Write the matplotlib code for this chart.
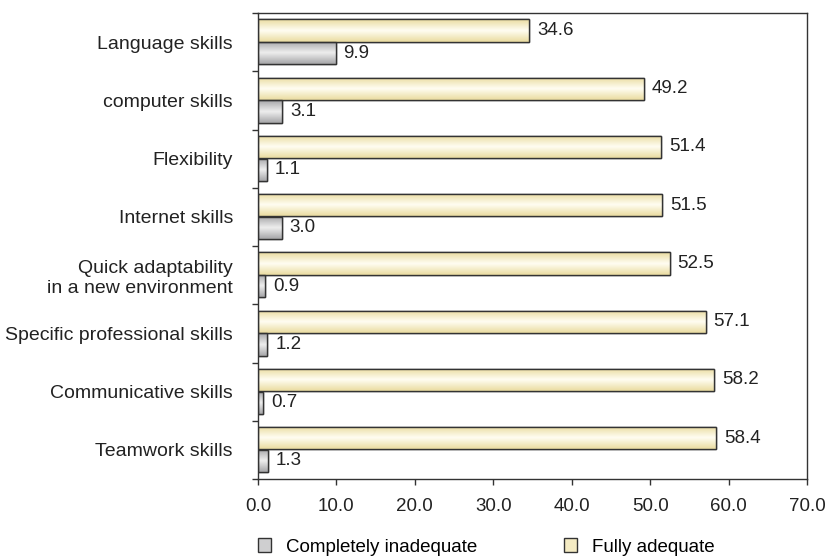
import matplotlib
matplotlib.use("Agg")
import matplotlib.pyplot as plt
import numpy as np
from matplotlib.patches import Patch
from matplotlib.colors import LinearSegmentedColormap

plt.rcParams['font.family'] = ['Liberation Sans', 'DejaVu Sans']

categories = ["Language skills", "computer skills", "Flexibility", "Internet skills",
              "Quick adaptability\nin a new environment", "Specific professional skills",
              "Communicative skills", "Teamwork skills"]
fully_adequate = [34.6, 49.2, 51.4, 51.5, 52.5, 57.1, 58.2, 58.4]
completely_inadequate = [9.9, 3.1, 1.1, 3.0, 0.9, 1.2, 0.7, 1.3]
series_names = ["Completely inadequate", "Fully adequate"]
xticks = [0, 10, 20, 30, 40, 50, 60, 70]

fig = plt.figure(figsize=(8.29, 5.56), dpi=100)
ax = fig.add_axes([258/829, 1-479/556, (807-258)/829, (479-13)/556])

y = np.arange(len(categories))
h = 0.38
yellow_cmap = LinearSegmentedColormap.from_list("y", ["#EADCA0", "#FFFDF2", "#EADCA0"])
grey_cmap = LinearSegmentedColormap.from_list("g", ["#A6A6A8", "#EEEEEE", "#A6A6A8"])

b1 = ax.barh(y - 0.2, fully_adequate, height=h, color="#F4EBC3", edgecolor="#333333", linewidth=1.0, zorder=2)
b2 = ax.barh(y + 0.19, completely_inadequate, height=h, color="#CFCFD0", edgecolor="#333333", linewidth=1.0, zorder=2)

grad = np.linspace(0, 1, 64).reshape(-1, 1)
for bars, cmap in ((b1, yellow_cmap), (b2, grey_cmap)):
    for p in bars:
        x0, y0 = p.get_x(), p.get_y()
        w, hh = p.get_width(), p.get_height()
        im = ax.imshow(grad, cmap=cmap, aspect='auto', extent=[x0, x0 + w, y0 + hh, y0],
                       zorder=2.5, interpolation='bilinear')
        im.set_clip_path(p)
        edge = plt.Rectangle((x0, y0), w, hh, fill=False, edgecolor="#333333", linewidth=1.0, zorder=3)
        ax.add_patch(edge)

for yy, v in zip(y - 0.2, fully_adequate):
    ax.text(v + 1.0, yy, f"{v:.1f}", va='center', ha='left', fontsize=13.5, color="#222222")
for yy, v in zip(y + 0.19, completely_inadequate):
    ax.text(v + 1.0, yy, f"{v:.1f}", va='center', ha='left', fontsize=13.5, color="#222222")

ax.set_xlim(0, 70)
ax.set_ylim(len(categories) - 0.5, -0.5)
ax.set_xticks(xticks)
ax.set_xticklabels([f"{t:.1f}" for t in xticks], fontsize=13.5, color="#222222")
ax.set_yticks(y)
ax.set_yticklabels(categories, fontsize=14, color="#222222", multialignment='right')
ax.set_yticks(np.arange(-0.5, len(categories) + 0.5, 1), minor=True)
ax.tick_params(axis='y', which='major', length=0, pad=18)
ax.tick_params(axis='y', which='minor', length=4, width=1, color="#333333")
ax.tick_params(axis='x', length=4, width=1, color="#333333", pad=10)
for s in ax.spines.values():
    s.set_color("#333333")
    s.set_linewidth(1.0)

handles = [Patch(facecolor="#CFCFD0", edgecolor="#333333"),
           Patch(facecolor="#F4EBC3", edgecolor="#333333")]
for hnd, name, xa in zip(handles, series_names, [258/829, 564/829]):
    fig.legend([hnd], [name], loc='center left', bbox_to_anchor=(xa, 1-547/556),
               frameon=False, fontsize=13.5, handlelength=0.7, handleheight=0.7,
               handletextpad=0.8, borderaxespad=0, borderpad=0)

fig.savefig("out.png", dpi=100)
